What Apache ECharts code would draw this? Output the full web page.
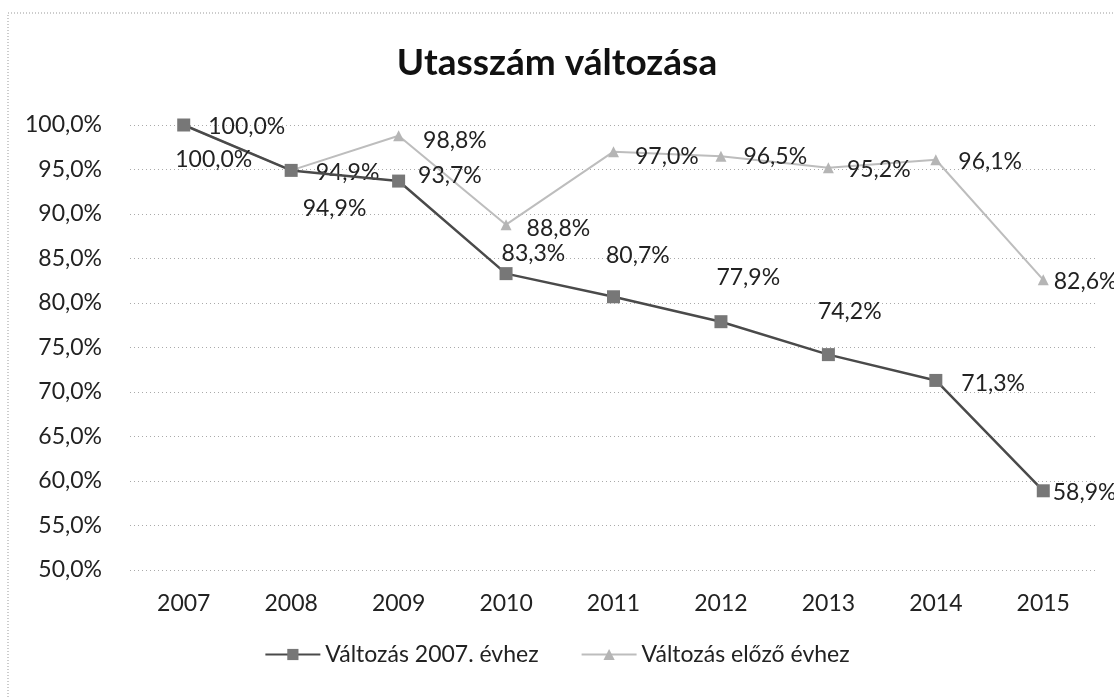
<!DOCTYPE html>
<html>
<head>
<meta charset="utf-8">
<script src="https://cdn.jsdelivr.net/npm/echarts@6/dist/echarts.min.js"></script>
<style>
html,body{margin:0;padding:0;background:#fff;}
#chart{width:1114px;height:697px;}
</style>
</head>
<body>
<div id="chart"></div>
<script>
// ---- data ----
const categories = ['2007','2008','2009','2010','2011','2012','2013','2014','2015'];
const seriesNames = ['Változás 2007. évhez', 'Változás előző évhez'];
const vs2007 = [100.0, 94.9, 93.7, 83.3, 80.7, 77.9, 74.2, 71.3, 58.9];
const vsPrev = [100.0, 94.9, 98.8, 88.8, 97.0, 96.5, 95.2, 96.1, 82.6];
const titleText = 'Utasszám változása';

// ---- label placement (style only) ----
const darkLabelOffsets = [[-20,35],[0,38],[8,-5],[-16,-20],[-19,-41],[-16,-44],[-22,-43],[14,3],[-2,2]];
const lightLabelOffsets = [[14,2],[14,2],[14,5],[10,4],[11,5],[12,0],[8,2],[12,2],[0,2]];

const FONT = 'Lato';
const fmt = v => v.toFixed(1).replace('.', ',') + '%';

function buildData(values, offsets) {
  return values.map((v, i) => ({
    value: v,
    label: { offset: offsets[i] }
  }));
}

const chart = echarts.init(document.getElementById('chart'), null, {renderer: 'canvas'});
chart.setOption({
  backgroundColor: '#fff',
  animation: false,
  textStyle: { fontFamily: FONT },
  graphic: [{
    type: 'rect',
    shape: { x: 8, y: 13, width: 1140, height: 720 },
    style: { fill: null, stroke: '#999', lineWidth: 1, lineDash: [1, 2] },
    silent: true
  }],
  title: {
    text: titleText,
    left: 'center',
    top: 40,
    textStyle: { fontFamily: FONT, fontWeight: 'bold', fontSize: 37, color: '#111' }
  },
  legend: {
    bottom: 26,
    left: 'center',
    itemWidth: 55,
    itemHeight: 14,
    itemGap: 42,
    textStyle: { fontFamily: FONT, fontSize: 23, color: '#222' },
    data: seriesNames
  },
  grid: { left: 130, right: 17, top: 125, bottom: 127, containLabel: false },
  xAxis: {
    type: 'category',
    data: categories,
    boundaryGap: true,
    axisLine: { show: false },
    axisTick: { show: false },
    axisLabel: { fontFamily: FONT, fontSize: 23, color: '#222', margin: 22 }
  },
  yAxis: {
    type: 'value',
    min: 50,
    max: 100,
    interval: 5,
    axisLine: { show: false },
    axisTick: { show: false },
    axisLabel: { fontFamily: FONT, fontSize: 23, color: '#222', margin: 28, formatter: v => fmt(v) },
    splitLine: { show: true, lineStyle: { color: '#aaa', type: [1, 3], width: 1 } }
  },
  series: [
    {
      name: seriesNames[0],
      type: 'line',
      data: buildData(vs2007, darkLabelOffsets),
      symbol: 'rect',
      symbolSize: 13,
      itemStyle: { color: '#777' },
      lineStyle: { color: '#4a4a4a', width: 2.5 },
      z: 3,
      label: {
        show: true,
        position: 'right',
        distance: 5,
        fontFamily: FONT,
        fontSize: 23,
        color: '#222',
        formatter: p => fmt(p.value)
      }
    },
    {
      name: seriesNames[1],
      type: 'line',
      data: buildData(vsPrev, lightLabelOffsets),
      symbol: 'triangle',
      symbolSize: 11,
      itemStyle: { color: '#b5b5b5' },
      lineStyle: { color: '#bdbdbd', width: 2 },
      z: 2,
      label: {
        show: true,
        position: 'right',
        distance: 5,
        fontFamily: FONT,
        fontSize: 23,
        color: '#222',
        formatter: p => fmt(p.value)
      }
    }
  ]
});
</script>
</body>
</html>
